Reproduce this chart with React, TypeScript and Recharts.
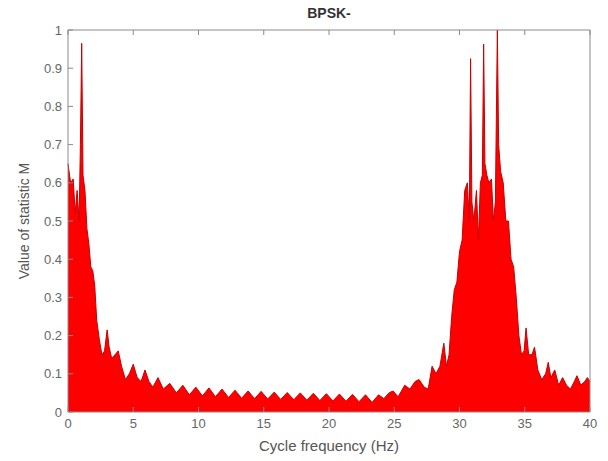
import { Area, AreaChart, XAxis, YAxis } from "recharts";

// Cycle frequency (Hz) and statistic M.
const freq = [
  0, 0.2, 0.4, 0.55, 0.7, 0.85, 0.95, 1.05, 1.15, 1.3, 1.45, 1.6, 1.75, 1.9,
  2.05, 2.2, 2.4, 2.6, 2.8, 3.0, 3.15, 3.35, 3.6, 3.85, 4.1, 4.4, 4.7, 5.0,
  5.3, 5.6, 5.9, 6.2, 6.5, 6.9, 7.3, 7.8, 8.3, 8.8, 9.3, 9.8, 10.3, 10.8,
  11.3, 11.8, 12.3, 12.8, 13.3, 13.8, 14.3, 14.8, 15.3, 15.8, 16.3, 16.8,
  17.3, 17.8, 18.3, 18.8, 19.3, 19.8, 20.3, 20.8, 21.3, 21.8, 22.3, 22.8,
  23.3, 23.8, 24.2, 24.6, 24.9, 25.3, 25.8, 26.2, 26.6, 26.9, 27.3, 27.6,
  27.9, 28.2, 28.5, 28.8, 29.0, 29.2, 29.4, 29.6, 29.8, 30.0, 30.2, 30.4,
  30.6, 30.75, 30.85, 30.95, 31.1, 31.3, 31.45, 31.6, 31.75, 31.85, 31.95,
  32.1, 32.25, 32.45, 32.6, 32.75, 32.9, 33.0, 33.15, 33.35, 33.55, 33.75,
  33.95, 34.15, 34.35, 34.55, 34.75, 34.95, 35.1, 35.3, 35.55, 35.75, 36.0,
  36.3, 36.6, 36.8, 37.0, 37.3, 37.6, 37.9, 38.2, 38.5, 38.8, 39.0, 39.3,
  39.6, 39.8, 40,
];

const statM = [
  0.65, 0.6, 0.61, 0.52, 0.58, 0.5, 0.7, 0.965, 0.62, 0.58, 0.48, 0.44, 0.38,
  0.37, 0.33, 0.24, 0.19, 0.15, 0.16, 0.215, 0.17, 0.14, 0.15, 0.16, 0.12,
  0.085, 0.1, 0.125, 0.09, 0.08, 0.11, 0.08, 0.065, 0.09, 0.06, 0.075, 0.05,
  0.07, 0.045, 0.065, 0.042, 0.063, 0.04, 0.06, 0.038, 0.057, 0.036, 0.055,
  0.035, 0.054, 0.034, 0.052, 0.033, 0.051, 0.032, 0.05, 0.031, 0.049, 0.03,
  0.048, 0.029, 0.047, 0.028, 0.046, 0.027, 0.045, 0.025, 0.045, 0.035, 0.05,
  0.055, 0.04, 0.07, 0.06, 0.08, 0.085, 0.065, 0.06, 0.12, 0.1, 0.12, 0.18,
  0.12, 0.15, 0.25, 0.32, 0.34, 0.42, 0.45, 0.58, 0.6, 0.5, 0.925, 0.55, 0.5,
  0.58, 0.45, 0.6, 0.62, 0.963, 0.65, 0.62, 0.6, 0.61, 0.5, 0.55, 1.0, 0.7,
  0.63, 0.6, 0.5, 0.5, 0.4, 0.38, 0.3, 0.2, 0.15, 0.16, 0.22, 0.15, 0.15,
  0.17, 0.11, 0.085, 0.1, 0.13, 0.09, 0.11, 0.07, 0.09, 0.07, 0.06, 0.08,
  0.095, 0.07, 0.08, 0.09, 0.08,
];

const xTicks = [0, 5, 10, 15, 20, 25, 30, 35, 40];
const yTicks = [0, 0.1, 0.2, 0.3, 0.4, 0.5, 0.6, 0.7, 0.8, 0.9, 1];

const data = freq.map((f, i) => ({ f, m: statM[i] }));

const FONT = '"Liberation Sans", Arial, sans-serif';
const AXIS = "#8a8a8a";
const TXT = "#666";
const GAP = 6; // tick label distance from axis
const TICK = 5; // inward tick length

interface TickProps {
  x?: number;
  y?: number;
  payload?: { value: number };
}

// MATLAB-style: ticks point into the plot box.
function BottomTick({ x = 0, y = 0, payload }: TickProps) {
  const ay = y - GAP;
  return (
    <g>
      <line x1={x} x2={x} y1={ay} y2={ay - TICK} stroke={AXIS} />
      <text x={x} y={y} dy="0.8em" textAnchor="middle" fill={TXT} fontSize={13} fontFamily={FONT}>
        {payload?.value}
      </text>
    </g>
  );
}

function LeftTick({ x = 0, y = 0, payload }: TickProps) {
  const ax = x + GAP;
  return (
    <g>
      <line x1={ax} x2={ax + TICK} y1={y} y2={y} stroke={AXIS} />
      <text x={x} y={y} dy="0.35em" textAnchor="end" fill={TXT} fontSize={13} fontFamily={FONT}>
        {payload?.value}
      </text>
    </g>
  );
}

function TopTick({ x = 0, y = 0 }: TickProps) {
  return <line x1={x} x2={x} y1={y} y2={y + TICK} stroke={AXIS} />;
}

function RightTick({ x = 0, y = 0 }: TickProps) {
  return <line x1={x - TICK} x2={x} y1={y} y2={y} stroke={AXIS} />;
}

export default function App() {
  return (
    <div style={{ position: "absolute", left: 0, top: 0, background: "#fff" }}>
      <AreaChart
        width={608}
        height={461}
        data={data}
        margin={{ top: 29, right: 17, left: 38, bottom: 10 }}
      >
        <XAxis
          dataKey="f"
          type="number"
          domain={[0, 40]}
          ticks={xTicks}
          interval={0}
          height={39}
          tickSize={0}
          tickMargin={GAP}
          stroke={AXIS}
          tick={<BottomTick />}
          label={{
            value: "Cycle frequency (Hz)",
            position: "insideBottom",
            offset: 0,
            fill: "#555",
            fontSize: 15,
            fontFamily: FONT,
          }}
        />
        <XAxis
          xAxisId="top"
          dataKey="f"
          type="number"
          orientation="top"
          domain={[0, 40]}
          ticks={xTicks}
          interval={0}
          height={1}
          tickSize={0}
          tickMargin={0}
          stroke={AXIS}
          tick={<TopTick />}
          label={{
            value: "BPSK-",
            position: "top",
            offset: 11,
            fill: "#333",
            fontSize: 14,
            fontWeight: "bold",
            fontFamily: FONT,
          }}
        />
        <YAxis
          type="number"
          domain={[0, 1]}
          ticks={yTicks}
          interval={0}
          width={30}
          tickSize={0}
          tickMargin={GAP}
          stroke={AXIS}
          tick={<LeftTick />}
          label={{
            value: "Value of statistic M",
            angle: -90,
            position: "insideLeft",
            offset: -14,
            fill: "#555",
            fontSize: 14,
            fontFamily: FONT,
            style: { textAnchor: "middle" },
          }}
        />
        <YAxis
          yAxisId="right"
          orientation="right"
          type="number"
          domain={[0, 1]}
          ticks={yTicks}
          interval={0}
          width={1}
          tickSize={0}
          tickMargin={0}
          stroke={AXIS}
          tick={<RightTick />}
        />
        <Area
          type="linear"
          dataKey="m"
          stroke="#c80000"
          strokeWidth={1}
          fill="#ff0000"
          fillOpacity={1}
          dot={false}
          activeDot={false}
          isAnimationActive={false}
        />
      </AreaChart>
    </div>
  );
}
